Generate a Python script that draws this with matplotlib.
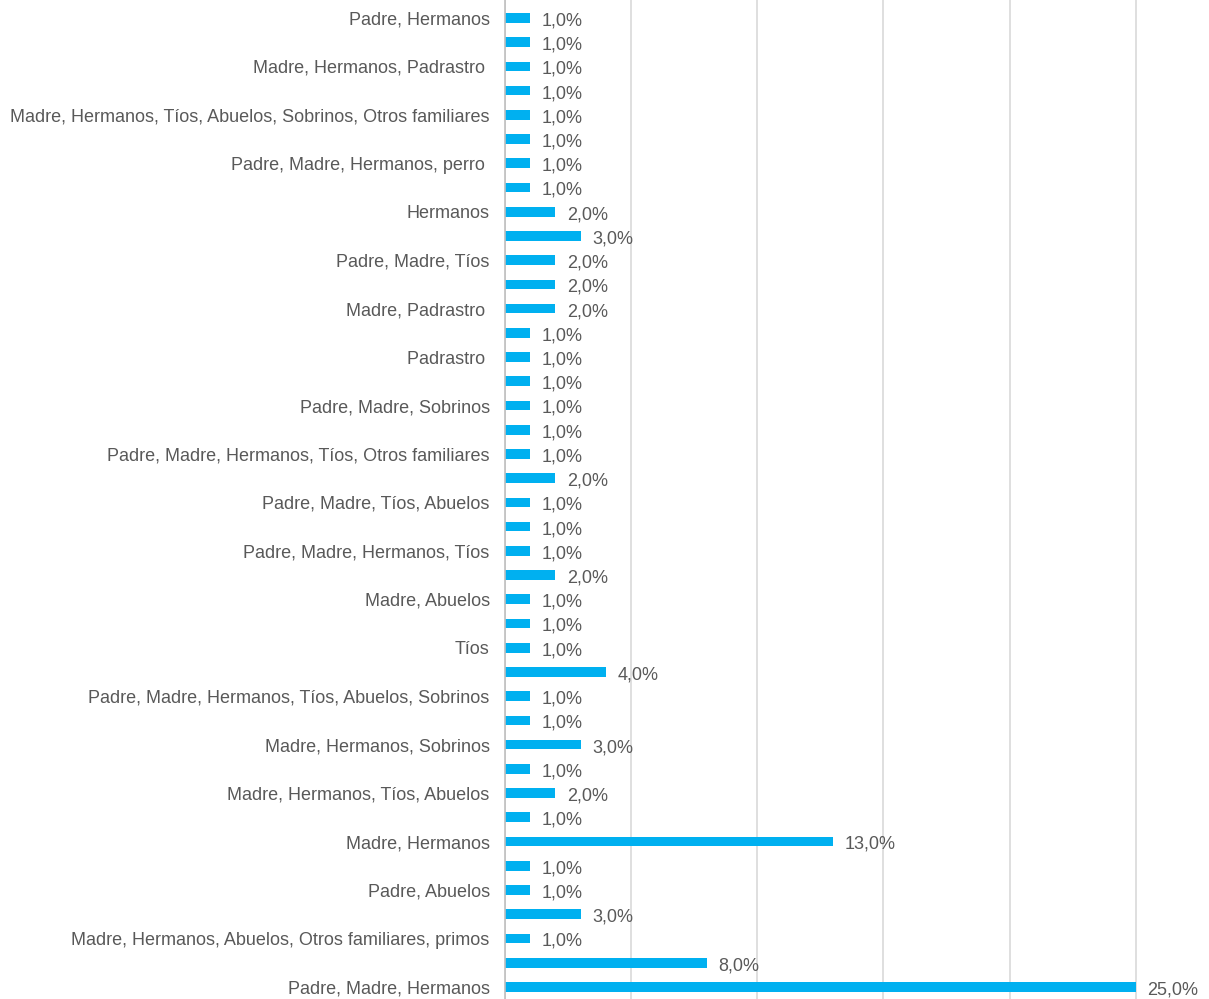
import matplotlib.pyplot as plt
from matplotlib import font_manager

# Categories, top to bottom (Excel hid every second label)
labels = [
    "Padre, Hermanos", "",
    "Madre, Hermanos, Padrastro ", "",
    "Madre, Hermanos, Tíos, Abuelos, Sobrinos, Otros familiares", "",
    "Padre, Madre, Hermanos, perro ", "",
    "Hermanos", "",
    "Padre, Madre, Tíos", "",
    "Madre, Padrastro ", "",
    "Padrastro ", "",
    "Padre, Madre, Sobrinos", "",
    "Padre, Madre, Hermanos, Tíos, Otros familiares", "",
    "Padre, Madre, Tíos, Abuelos", "",
    "Padre, Madre, Hermanos, Tíos", "",
    "Madre, Abuelos", "",
    "Tíos", "",
    "Padre, Madre, Hermanos, Tíos, Abuelos, Sobrinos", "",
    "Madre, Hermanos, Sobrinos", "",
    "Madre, Hermanos, Tíos, Abuelos", "",
    "Madre, Hermanos", "",
    "Padre, Abuelos", "",
    "Madre, Hermanos, Abuelos, Otros familiares, primos", "",
    "Padre, Madre, Hermanos",
]
values = [
    1, 1, 1, 1, 1, 1, 1, 1, 2, 3,
    2, 2, 2, 1, 1, 1, 1, 1, 1, 2,
    1, 1, 1, 2, 1, 1, 1, 4, 1, 1,
    3, 1, 2, 1, 13, 1, 1, 3, 1, 8,
    25,
]

names = {f.name for f in font_manager.fontManager.ttflist}
fam = "Liberation Sans Narrow" if "Liberation Sans Narrow" in names else "Liberation Sans"
plt.rcParams["font.family"] = [fam, "DejaVu Sans"]

fig = plt.figure(figsize=(12.09, 9.99), dpi=100)
ax = fig.add_axes([505 / 1209, 0, 1 - 505 / 1209, 1])

pos = list(range(len(values)))
ax.barh(pos, values, height=0.4, color="#00b0f0", zorder=3)

for p, v in zip(pos, values):
    ax.text(v + 0.45, p + 0.12, f"{v:.1f}%".replace(".", ","), va="center", ha="left",
            fontsize=13, color="#595959", zorder=4)

ax.set_yticks(pos)
ax.set_yticklabels(labels, fontsize=13, color="#595959")
ax.tick_params(axis="y", length=0, pad=11)
ax.tick_params(axis="x", length=0, labelbottom=False)
ax.set_xticks([0, 5, 10, 15, 20, 25])
ax.set_xlim(0, 27.9)
ax.set_ylim(40.5, -0.74)

ax.grid(axis="x", color="#d9d9d9", linewidth=1.2, zorder=0)
for s in ["top", "right", "bottom"]:
    ax.spines[s].set_visible(False)
ax.spines["left"].set_color("#bfbfbf")
ax.spines["left"].set_linewidth(1.2)
ax.spines["left"].set_zorder(5)

fig.savefig("out.png", dpi=100)
